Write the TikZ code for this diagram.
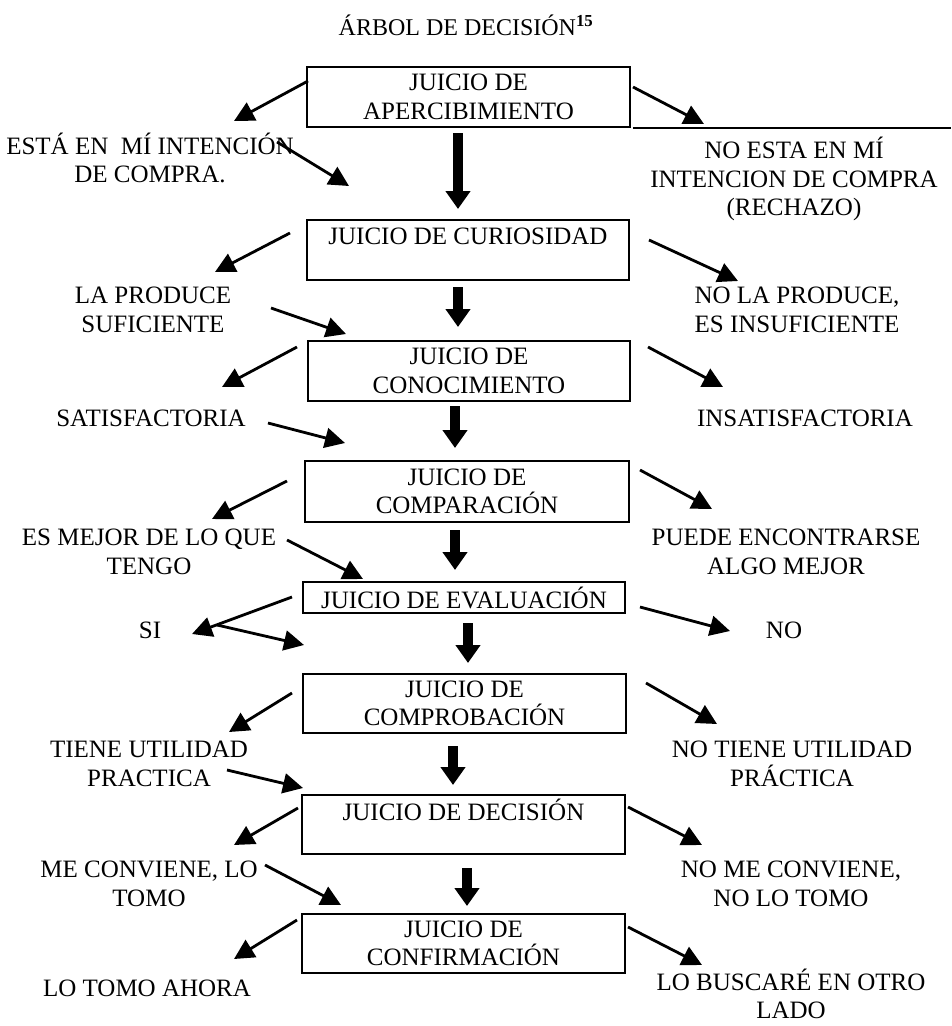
\documentclass[tikz,border=0pt]{standalone}
\usepackage{fontspec}
\setmainfont{Liberation Serif}
\usetikzlibrary{arrows.meta}
\tikzset{
  box/.style={draw, line width=1.5pt, inner sep=0pt, align=center,
     font=\fontsize{25}{28.5}\selectfont},
  lab/.style={inner sep=0pt, align=center, font=\fontsize{25}{28.5}\selectfont},
  thin arrow/.style={line width=2.8pt, -{Triangle[length=20pt,width=20pt]}},
  thick arrow/.style={line width=10pt, -{Triangle[length=18pt,width=24pt]}},
}
\newcommand{\mybox}[6]{% name, xl, xr, yt, yb, text
  \node[box, minimum width=#3pt-#2pt, minimum height=#5pt-#4pt] (#1) at ({(#2+#3)/2},{(#4+#5)/2}) {#6};}
\begin{document}
\begin{tikzpicture}[x=1pt,y=-1pt]
\useasboundingbox (0,0) rectangle (951,1026);
\fill[white] (0,0) rectangle (951,1026);

\node[lab, font=\fontsize{24}{24}\selectfont] (title) at (466,25) {ÁRBOL DE DECISIÓN\textsuperscript{\bfseries 15}};

% boxes
\mybox{b1}{307}{630}{67}{127}{JUICIO DE\\APERCIBIMIENTO}
\mybox{b2}{307}{629}{220}{280}{JUICIO DE CURIOSIDAD\\ ~}
\mybox{b3}{308}{630}{341}{401}{JUICIO DE\\CONOCIMIENTO}
\mybox{b4}{305}{629}{461}{522}{JUICIO DE\\COMPARACIÓN}
\mybox{b5}{303}{625}{582}{613}{JUICIO DE EVALUACIÓN}
\mybox{b6}{303}{626}{674}{733}{JUICIO DE\\COMPROBACIÓN}
\mybox{b7}{302}{625}{795}{854}{JUICIO DE DECISIÓN\\ ~}
\mybox{b8}{302}{625}{914}{973}{JUICIO DE\\CONFIRMACIÓN}

% table line remnant
\coordinate (tl1) at (633,128);
\coordinate (tl2) at (951,128);
\draw[line width=1.5pt] (tl1) -- (tl2);

% labels
\node[lab] (l1) at (150,158) {ESTÁ EN\ \ MÍ INTENCIÓN\\DE COMPRA.};
\node[lab] (r1) at (794,179) {NO ESTA EN MÍ\\INTENCION DE COMPRA\\(RECHAZO)};
\node[lab] (l2) at (153,310) {LA PRODUCE\\SUFICIENTE};
\node[lab] (r2) at (797,310) {NO LA PRODUCE,\\ES INSUFICIENTE};
\node[lab] (l3) at (151,418) {SATISFACTORIA};
\node[lab] (r3) at (805,418) {INSATISFACTORIA};
\node[lab] (l4) at (149,552) {ES MEJOR DE LO QUE\\TENGO};
\node[lab] (r4) at (786,552) {PUEDE ENCONTRARSE\\ALGO MEJOR};
\node[lab] (l5) at (150,630) {SI};
\node[lab] (r5) at (784,630) {NO};
\node[lab] (l6) at (149,764) {TIENE UTILIDAD\\PRACTICA};
\node[lab] (r6) at (792,764) {NO TIENE UTILIDAD\\PRÁCTICA};
\node[lab] (l7) at (149,884) {ME CONVIENE, LO\\TOMO};
\node[lab] (r7) at (791,884) {NO ME CONVIENE,\\NO LO TOMO};
\node[lab] (l8) at (147,988) {LO TOMO AHORA};
\node[lab] (r8) at (791,994) {LO BUSCARÉ EN OTRO\\LADO};

% arrow end points
\coordinate (a1ls) at (308,81);  \coordinate (a1lt) at (234,121);
\coordinate (a1rs) at (633,87);  \coordinate (a1rt) at (704,124);
\coordinate (a1is) at (277,142); \coordinate (a1it) at (349,186);
\coordinate (d1s) at (458,133);  \coordinate (d1t) at (458,209);

\coordinate (a2ls) at (290,233); \coordinate (a2lt) at (215,272);
\coordinate (a2rs) at (649,240); \coordinate (a2rt) at (738,281);
\coordinate (a2is) at (271,308); \coordinate (a2it) at (346,334);
\coordinate (d2s) at (458,287);  \coordinate (d2t) at (458,327);

\coordinate (a3ls) at (297,347); \coordinate (a3lt) at (222,387);
\coordinate (a3rs) at (648,347); \coordinate (a3rt) at (723,387);
\coordinate (a3is) at (268,423); \coordinate (a3it) at (345,443);
\coordinate (d3s) at (455,406);  \coordinate (d3t) at (455,448);

\coordinate (a4ls) at (287,481); \coordinate (a4lt) at (212,519);
\coordinate (a4rs) at (640,470); \coordinate (a4rt) at (712,509);
\coordinate (a4is) at (287,540); \coordinate (a4it) at (363,579);
\coordinate (d4s) at (455,530);  \coordinate (d4t) at (455,570);

\coordinate (a5ls) at (292,597); \coordinate (a5lt) at (192,634);
\coordinate (a5is) at (217,625); \coordinate (a5it) at (304,645);
\coordinate (a5rs) at (640,607); \coordinate (a5rt) at (730,631);
\coordinate (d5s) at (468,623);  \coordinate (d5t) at (468,663);

\coordinate (a6ls) at (292,693); \coordinate (a6lt) at (229,732);
\coordinate (a6rs) at (646,683); \coordinate (a6rt) at (717,724);
\coordinate (a6is) at (227,770); \coordinate (a6it) at (303,788);
\coordinate (d6s) at (453,746);  \coordinate (d6t) at (453,785);

\coordinate (a7ls) at (298,808); \coordinate (a7lt) at (234,845);
\coordinate (a7rs) at (628,807); \coordinate (a7rt) at (702,845);
\coordinate (a7is) at (265,865); \coordinate (a7it) at (341,905);
\coordinate (d7s) at (467,868);  \coordinate (d7t) at (467,906);

\coordinate (a8ls) at (297,920); \coordinate (a8lt) at (234,959);
\coordinate (a8rs) at (628,927); \coordinate (a8rt) at (702,965);

\foreach \i in {1,2,3,4,6,7}{
  \draw[thin arrow] (a\i ls) -- (a\i lt);
  \draw[thin arrow] (a\i rs) -- (a\i rt);
  \draw[thin arrow] (a\i is) -- (a\i it);
  \draw[thick arrow] (d\i s) -- (d\i t);
}
\draw[thin arrow] (a5ls) -- (a5lt);
\draw[thin arrow] (a5is) -- (a5it);
\draw[thin arrow] (a5rs) -- (a5rt);
\draw[thick arrow] (d5s) -- (d5t);
\draw[thin arrow] (a8ls) -- (a8lt);
\draw[thin arrow] (a8rs) -- (a8rt);
\end{tikzpicture}
\end{document}
